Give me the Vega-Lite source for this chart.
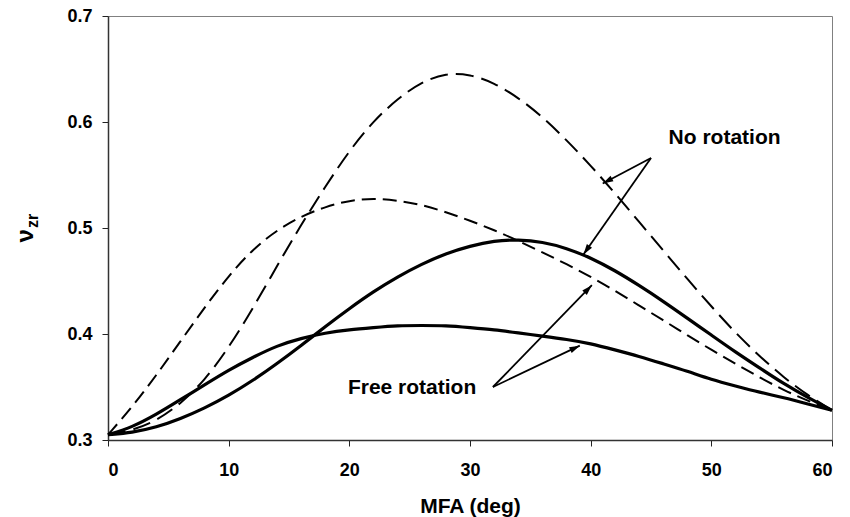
{
  "$schema": "https://vega.github.io/schema/vega-lite/v6.json",
  "width": 724,
  "height": 424,
  "autosize": {"type": "none"},
  "padding": {"left": 108, "top": 16, "right": 18, "bottom": 77},
  "background": "white",
  "config": {
    "font": "Liberation Sans",
    "view": {"stroke": "#808080", "strokeWidth": 1},
    "axis": {
      "grid": false,
      "domainColor": "#333333",
      "domainWidth": 1.5,
      "tickColor": "#222222",
      "tickSize": 6,
      "tickWidth": 1,
      "labelFont": "Liberation Sans",
      "labelFontSize": 18,
      "labelFontWeight": 700,
      "labelColor": "#000000",
      "titleFont": "Liberation Sans",
      "titleFontWeight": "bold",
      "titleColor": "#000000"
    }
  },
  "datasets": {
    "curves": [
      {"mfa": 0, "A": 0.305, "B": 0.305, "C": 0.305, "D": 0.305},
      {"mfa": 2, "A": 0.309, "B": 0.331, "C": 0.307, "D": 0.312},
      {"mfa": 4, "A": 0.318, "B": 0.361, "C": 0.312, "D": 0.324},
      {"mfa": 6, "A": 0.334, "B": 0.393, "C": 0.320, "D": 0.338},
      {"mfa": 8, "A": 0.356, "B": 0.425, "C": 0.330, "D": 0.352},
      {"mfa": 10, "A": 0.387, "B": 0.455, "C": 0.342, "D": 0.366},
      {"mfa": 12, "A": 0.424, "B": 0.480, "C": 0.356, "D": 0.378},
      {"mfa": 14, "A": 0.464, "B": 0.498, "C": 0.372, "D": 0.389},
      {"mfa": 16, "A": 0.503, "B": 0.511, "C": 0.389, "D": 0.396},
      {"mfa": 18, "A": 0.539, "B": 0.520, "C": 0.407, "D": 0.401},
      {"mfa": 20, "A": 0.573, "B": 0.526, "C": 0.424, "D": 0.404},
      {"mfa": 22, "A": 0.601, "B": 0.528, "C": 0.440, "D": 0.406},
      {"mfa": 24, "A": 0.622, "B": 0.526, "C": 0.454, "D": 0.408},
      {"mfa": 26, "A": 0.638, "B": 0.522, "C": 0.466, "D": 0.408},
      {"mfa": 28, "A": 0.646, "B": 0.515, "C": 0.476, "D": 0.408},
      {"mfa": 30, "A": 0.645, "B": 0.507, "C": 0.483, "D": 0.406},
      {"mfa": 32, "A": 0.637, "B": 0.498, "C": 0.488, "D": 0.404},
      {"mfa": 34, "A": 0.623, "B": 0.488, "C": 0.489, "D": 0.401},
      {"mfa": 36, "A": 0.605, "B": 0.477, "C": 0.487, "D": 0.398},
      {"mfa": 38, "A": 0.583, "B": 0.466, "C": 0.481, "D": 0.395},
      {"mfa": 40, "A": 0.559, "B": 0.454, "C": 0.472, "D": 0.391},
      {"mfa": 42, "A": 0.533, "B": 0.441, "C": 0.460, "D": 0.385},
      {"mfa": 44, "A": 0.506, "B": 0.427, "C": 0.446, "D": 0.379},
      {"mfa": 46, "A": 0.479, "B": 0.413, "C": 0.431, "D": 0.372},
      {"mfa": 48, "A": 0.452, "B": 0.399, "C": 0.415, "D": 0.365},
      {"mfa": 50, "A": 0.426, "B": 0.385, "C": 0.399, "D": 0.357},
      {"mfa": 52, "A": 0.401, "B": 0.372, "C": 0.383, "D": 0.351},
      {"mfa": 54, "A": 0.379, "B": 0.359, "C": 0.368, "D": 0.345},
      {"mfa": 56, "A": 0.359, "B": 0.347, "C": 0.353, "D": 0.340},
      {"mfa": 58, "A": 0.342, "B": 0.337, "C": 0.340, "D": 0.334},
      {"mfa": 60, "A": 0.328, "B": 0.328, "C": 0.328, "D": 0.328}
    ],
    "arrows": [
      {"x1": 45.0, "y1": 0.566, "x2": 41.0, "y2": 0.542},
      {"x1": 45.0, "y1": 0.566, "x2": 39.4, "y2": 0.475},
      {"x1": 31.9, "y1": 0.350, "x2": 40.1, "y2": 0.446},
      {"x1": 31.9, "y1": 0.350, "x2": 39.1, "y2": 0.389}
    ],
    "labels": [
      {"x": 51.1, "y": 0.585, "label": "No rotation"},
      {"x": 25.2, "y": 0.349, "label": "Free rotation"}
    ],
    "ytitle": [
      {"x": -6.19, "y": 0.4926, "t": "ν", "part": "main"},
      {"x": -5.78, "y": 0.5068, "t": "zr", "part": "sub"}
    ]
  },
  "layer": [
    {
      "data": {"name": "curves"},
      "mark": {"type": "line", "interpolate": "basis", "color": "#000000", "strokeWidth": 2, "strokeDash": [18, 8]},
      "encoding": {
        "x": {
          "field": "mfa", "type": "quantitative",
          "scale": {"domain": [0, 60], "nice": false, "zero": false},
          "axis": {"values": [0, 10, 20, 30, 40, 50, 60], "labelPadding": 15, "labelFontWeight": 700, "labelFontSize": 18, "title": "MFA (deg)", "titleFontSize": 21, "titleBaseline": "alphabetic", "titleY": 72}
        },
        "y": {
          "field": "A", "type": "quantitative",
          "scale": {"domain": [0.3, 0.7], "nice": false, "zero": false},
          "axis": {"values": [0.3, 0.4, 0.5, 0.6, 0.7], "format": ".1f", "labelPadding": 10, "labelFontWeight": 700, "labelFontSize": 18, "title": null}
        }
      }
    },
    {
      "data": {"name": "curves"},
      "mark": {"type": "line", "interpolate": "basis", "color": "#000000", "strokeWidth": 2, "strokeDash": [14, 7]},
      "encoding": {
        "x": {"field": "mfa", "type": "quantitative", "scale": {"domain": [0, 60]}},
        "y": {"field": "B", "type": "quantitative", "scale": {"domain": [0.3, 0.7]}}
      }
    },
    {
      "data": {"name": "curves"},
      "mark": {"type": "line", "interpolate": "basis", "color": "#000000", "strokeWidth": 3.2},
      "encoding": {
        "x": {"field": "mfa", "type": "quantitative", "scale": {"domain": [0, 60]}},
        "y": {"field": "C", "type": "quantitative", "scale": {"domain": [0.3, 0.7]}}
      }
    },
    {
      "data": {"name": "curves"},
      "mark": {"type": "line", "interpolate": "basis", "color": "#000000", "strokeWidth": 3.2},
      "encoding": {
        "x": {"field": "mfa", "type": "quantitative", "scale": {"domain": [0, 60]}},
        "y": {"field": "D", "type": "quantitative", "scale": {"domain": [0.3, 0.7]}}
      }
    },
    {
      "data": {"name": "arrows"},
      "mark": {"type": "rule", "color": "#000000", "strokeWidth": 1.8},
      "encoding": {
        "x": {"field": "x1", "type": "quantitative", "scale": {"domain": [0, 60]}},
        "y": {"field": "y1", "type": "quantitative", "scale": {"domain": [0.3, 0.7]}},
        "x2": {"field": "x2"},
        "y2": {"field": "y2"}
      }
    },
    {
      "data": {"name": "arrows"},
      "transform": [
        {"calculate": "atan2((datum.x2 - datum.x1) * 12.067, (datum.y2 - datum.y1) * 1060) * 180 / PI", "as": "ang"}
      ],
      "mark": {"type": "point", "shape": "M0,0L0.6,2L-0.6,2Z", "filled": true, "color": "#000000", "size": 110, "opacity": 1},
      "encoding": {
        "x": {"field": "x2", "type": "quantitative", "scale": {"domain": [0, 60]}},
        "y": {"field": "y2", "type": "quantitative", "scale": {"domain": [0.3, 0.7]}},
        "angle": {"field": "ang", "type": "quantitative", "scale": null}
      }
    },
    {
      "data": {"name": "labels"},
      "mark": {"type": "text", "font": "Liberation Sans", "fontWeight": "bold", "fontSize": 21, "align": "center", "baseline": "middle", "color": "#000000"},
      "encoding": {
        "x": {"field": "x", "type": "quantitative", "scale": {"domain": [0, 60]}},
        "y": {"field": "y", "type": "quantitative", "scale": {"domain": [0.3, 0.7]}},
        "text": {"field": "label"}
      }
    },
    {
      "data": {"name": "ytitle"},
      "mark": {"type": "text", "font": "Liberation Sans", "fontWeight": "bold", "align": "center", "baseline": "alphabetic", "angle": 270, "color": "#000000"},
      "encoding": {
        "x": {"field": "x", "type": "quantitative", "scale": {"domain": [0, 60]}},
        "y": {"field": "y", "type": "quantitative", "scale": {"domain": [0.3, 0.7]}},
        "text": {"field": "t"},
        "size": {"field": "part", "type": "nominal", "scale": {"domain": ["main", "sub"], "range": [24, 16]}, "legend": null}
      }
    }
  ]
}
